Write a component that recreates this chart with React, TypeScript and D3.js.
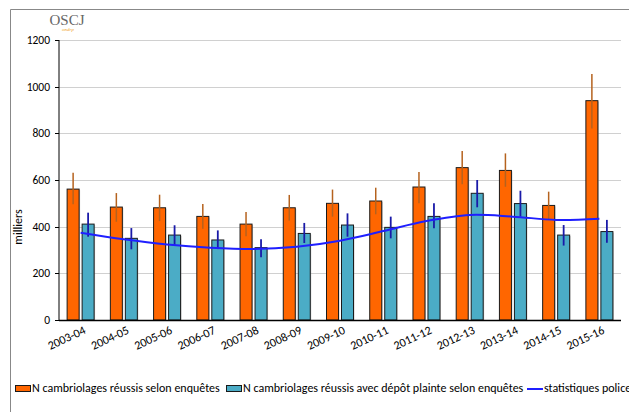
import React from "react";
import * as d3 from "d3";

const categories = ["2003-04","2004-05","2005-06","2006-07","2007-08","2008-09","2009-10","2010-11","2011-12","2012-13","2013-14","2014-15","2015-16"];
const enquetes = [561, 484, 481, 444, 411, 481, 500, 510, 570, 653, 641, 491, 940];
const enquetesLow = [496, 421, 424, 391, 359, 426, 443, 453, 500, 582, 571, 432, 821];
const enquetesHigh = [631, 544, 537, 497, 463, 536, 559, 567, 634, 724, 714, 550, 1054];
const plainte = [411, 350, 364, 343, 310, 371, 407, 397, 444, 543, 499, 364, 379];
const plainteLow = [357, 303, 322, 304, 269, 330, 357, 350, 393, 483, 443, 319, 331];
const plainteHigh = [460, 394, 406, 384, 346, 416, 457, 443, 500, 600, 554, 407, 429];
const police = [374, 346, 324, 310, 304, 314, 340, 381, 424, 450, 443, 429, 434];
const yTicks = [0, 200, 400, 600, 800, 1000, 1200];

const W = 629, H = 412;
const left = 59, right = 621, top = 40, bottom = 320;
const FONT = "Carlito, Lato, 'Liberation Sans', sans-serif";

export default function App() {
  const x = d3.scaleBand().domain(categories).range([left, right]).paddingInner(0).paddingOuter(0);
  const y = d3.scaleLinear().domain([0, 1200]).range([bottom, top]);
  const bw = 12, gap = 3;
  const cx = (c: string) => (x(c) as number) + x.bandwidth() / 2;
  const line = d3.line<number>().x((_, i) => cx(categories[i])).y(d => y(d)).curve(d3.curveCatmullRom.alpha(0.5));

  return (
    <svg width={W} height={H} style={{ position: "absolute", left: 0, top: 0, fontFamily: FONT }}>
      <rect x={0} y={0} width={W} height={H} fill="#fff" />
      <path d={`M10.5,${H} L10.5,9.5 L${W},9.5`} fill="none" stroke="#888" strokeWidth={1} />
      <text x={67} y={25} textAnchor="middle" fontFamily="'Liberation Serif', serif" fontSize={15} fill="#666">OSCJ</text>
      <text x={68} y={31} textAnchor="middle" fontFamily="'Liberation Serif', serif" fontStyle="italic" fontSize={5} fill="#f0a020">ondrp</text>
      {yTicks.filter(t => t > 0).map(t => (
        <line key={t} x1={left} x2={right} y1={Math.round(y(t)) + 0.5} y2={Math.round(y(t)) + 0.5} stroke="#d0d0d0" strokeWidth={1} />
      ))}
      {yTicks.map(t => (
        <g key={"t" + t}>
          <line x1={left - 4} x2={left} y1={Math.round(y(t)) + 0.5} y2={Math.round(y(t)) + 0.5} stroke="#000" />
          <text x={50} y={y(t) + 4} textAnchor="end" fontSize={11.5} fill="#000">{t}</text>
        </g>
      ))}
      <text transform={`translate(22,${(top + bottom) / 2 + 47}) rotate(-90)`} textAnchor="middle" fontSize={12} fill="#000">milliers</text>
      {categories.map((c, i) => {
        const c0 = cx(c);
        const ox = c0 - gap / 2 - bw, bx = c0 + gap / 2;
        return (
          <g key={c}>
            <rect x={ox + 1} y={y(enquetes[i]) + 1} width={bw} height={bottom - y(enquetes[i])} fill="#999" opacity={0.5} />
            <rect x={ox} y={y(enquetes[i])} width={bw} height={bottom - y(enquetes[i])} fill="#ff6600" stroke="#1a1a1a" strokeWidth={1} />
            <rect x={bx + 1} y={y(plainte[i]) + 1} width={bw} height={bottom - y(plainte[i])} fill="#999" opacity={0.5} />
            <rect x={bx} y={y(plainte[i])} width={bw} height={bottom - y(plainte[i])} fill="#4bacc6" stroke="#1a1a1a" strokeWidth={1} />
            <line x1={ox + bw / 2} x2={ox + bw / 2} y1={y(enquetesLow[i])} y2={y(enquetesHigh[i])} stroke="#b5621e" strokeWidth={1.5} />
            <line x1={bx + bw / 2} x2={bx + bw / 2} y1={y(plainteLow[i])} y2={y(plainteHigh[i])} stroke="#1a1aa8" strokeWidth={1.8} />
          </g>
        );
      })}
      <path d={line(police) || ""} fill="none" stroke="#1f1fff" strokeWidth={2} />
      <line x1={left} x2={left} y1={top} y2={bottom} stroke="#000" strokeWidth={1} />
      <line x1={left} x2={right} y1={bottom + 0.5} y2={bottom + 0.5} stroke="#000" strokeWidth={1.3} />
      {categories.map(c => (
        <text key={"l" + c} transform={`translate(${cx(c) + 6},${bottom + 13}) rotate(-25)`} textAnchor="end" fontSize={12} fill="#000">{c}</text>
      ))}
      <g fontSize={12} fill="#000">
        <rect x={15.5} y={385.5} width={15} height={6} fill="#ff6600" stroke="#1a1a1a" />
        <text x={32} y={392}>N cambriolages réussis selon enquêtes</text>
        <rect x={226.5} y={385.5} width={15} height={6} fill="#4bacc6" stroke="#1a1a1a" />
        <text x={243} y={392}>N cambriolages réussis avec dépôt plainte selon enquêtes</text>
        <line x1={527} x2={543} y1={389} y2={389} stroke="#1f1fff" strokeWidth={2} />
        <text x={544} y={392}>statistiques police</text>
      </g>
    </svg>
  );
}
